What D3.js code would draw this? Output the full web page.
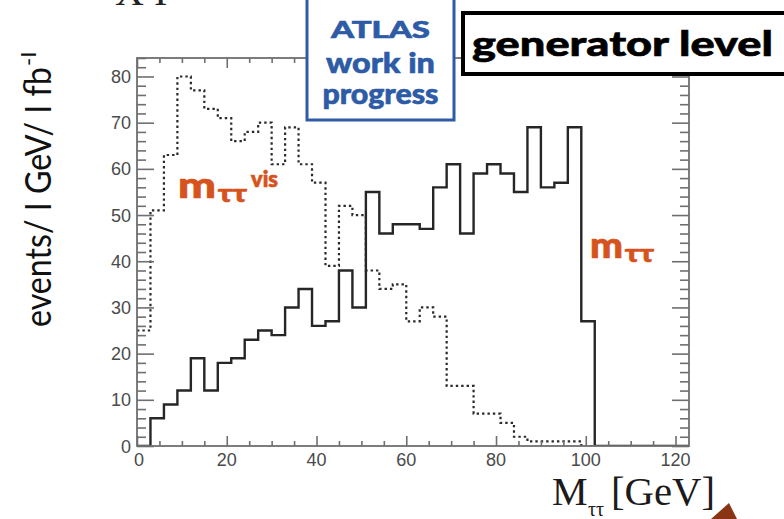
<!DOCTYPE html>
<html>
<head>
<meta charset="utf-8">
<script src="https://cdn.jsdelivr.net/npm/d3@7"></script>
<style>
  html, body { margin: 0; padding: 0; background: #fff; }
  svg { display: block; }
</style>
</head>
<body>
<svg id="chart" width="784" height="519"></svg>
<script>
// Lower bin edges in GeV (3 GeV bins, histogram range 0–123 GeV)
const binLow = [0, 3, 6, 9, 12, 15, 18, 21, 24, 27, 30, 33, 36, 39, 42, 45, 48, 51, 54, 57,
                60, 63, 66, 69, 72, 75, 78, 81, 84, 87, 90, 93, 96, 99, 102, 105, 108, 111, 114, 117, 120];
const binWidth = 3;

// Full di-tau mass, events per bin (solid)
const mTauTau = [0, 6, 9, 12, 19, 12, 18, 19, 23, 25, 24, 30, 34, 26, 27, 38, 30, 55, 46, 48,
                 48, 47, 56, 61, 46, 59, 61, 59, 55, 69, 56, 57, 69, 27, 0, 0, 0, 0, 0, 0, 0];

// Visible di-tau mass, events per bin (dotted)
const mTauTauVis = [25, 51, 63, 80, 77, 73, 71, 66, 68, 70, 61, 69, 61, 57, 39, 52, 50, 38, 34, 35,
                    27, 30, 28, 13, 13, 7, 7, 5, 2, 1, 1, 1, 1, 0, 0, 0, 0, 0, 0, 0, 0];

const xTicksMajor = [0, 20, 40, 60, 80, 100, 120];
const yTicksMajor = [0, 10, 20, 30, 40, 50, 60, 70, 80];

const svg = d3.select("#chart");
const frame = { left: 137, right: 689, top: 58, bottom: 446 };

const x = d3.scaleLinear().domain([0, 123]).range([frame.left, frame.right]);
const y = d3.scaleLinear().domain([0, 84]).range([frame.bottom, frame.top]);

const axisGrey = "#6f6f6f";
const labelGrey = "#4a4a4a";

// clip region for the histograms
svg.append("defs").append("clipPath").attr("id", "plotClip")
  .append("rect")
  .attr("x", frame.left).attr("y", frame.top)
  .attr("width", frame.right - frame.left).attr("height", frame.bottom - frame.top);

// histogram outline as a step line
function stepPoints(values) {
  const pts = binLow.map((lo, i) => [lo, values[i]]);
  pts.push([binLow[binLow.length - 1] + binWidth, values[values.length - 1]]);
  return pts;
}
const stepLine = d3.line()
  .x(d => x(d[0]))
  .y(d => y(d[1]))
  .curve(d3.curveStepAfter);

const plot = svg.append("g").attr("clip-path", "url(#plotClip)");

plot.append("path")
  .attr("d", stepLine(stepPoints(mTauTauVis)))
  .attr("fill", "none")
  .attr("stroke", "#2a2a2a")
  .attr("stroke-width", 2.2)
  .attr("stroke-dasharray", "2.4 3");

plot.append("path")
  .attr("d", stepLine(stepPoints(mTauTau)))
  .attr("fill", "none")
  .attr("stroke", "#262626")
  .attr("stroke-width", 2.4);

// frame
svg.append("rect")
  .attr("x", frame.left).attr("y", frame.top)
  .attr("width", frame.right - frame.left).attr("height", frame.bottom - frame.top)
  .attr("fill", "none").attr("stroke", axisGrey).attr("stroke-width", 1.8);

// x axis ticks (bottom, pointing up) and mirrored on top
const xAxisBottom = d3.axisBottom(x)
  .tickValues(d3.range(0, 121, 5))
  .tickSizeInner(0).tickSizeOuter(0).tickFormat("");
const gxb = svg.append("g").attr("transform", `translate(0,${frame.bottom})`).call(xAxisBottom);
gxb.select(".domain").remove();
gxb.selectAll(".tick line")
  .attr("y2", d => (d % 20 === 0 ? -10 : -5))
  .attr("stroke", axisGrey).attr("stroke-width", 1.6);

const gxt = svg.append("g").attr("transform", `translate(0,${frame.top})`).call(xAxisBottom);
gxt.select(".domain").remove();
gxt.selectAll(".tick line")
  .attr("y2", d => (d % 20 === 0 ? 10 : 5))
  .attr("stroke", axisGrey).attr("stroke-width", 1.6);

// x tick labels
svg.append("g").selectAll("text").data(xTicksMajor).join("text")
  .attr("x", d => x(d) + (d === 0 ? 2 : 0))
  .attr("y", frame.bottom + 20)
  .attr("text-anchor", "middle")
  .attr("font-family", "Liberation Sans, Arial, sans-serif")
  .attr("font-size", 18)
  .attr("fill", labelGrey)
  .text(d => d);

// y axis ticks (left, pointing right) and mirrored on right
const yAxis = d3.axisLeft(y)
  .tickValues(d3.range(0, 85, 2))
  .tickSizeInner(0).tickSizeOuter(0).tickFormat("");
const gyl = svg.append("g").attr("transform", `translate(${frame.left},0)`).call(yAxis);
gyl.select(".domain").remove();
gyl.selectAll(".tick line")
  .attr("x2", d => (d % 10 === 0 ? 17 : 9))
  .attr("stroke", axisGrey).attr("stroke-width", 1.6);

const gyr = svg.append("g").attr("transform", `translate(${frame.right},0)`).call(yAxis);
gyr.select(".domain").remove();
gyr.selectAll(".tick line")
  .attr("x2", d => (d % 10 === 0 ? -17 : -9))
  .attr("stroke", axisGrey).attr("stroke-width", 1.6);

// y tick labels
svg.append("g").selectAll("text").data(yTicksMajor).join("text")
  .attr("x", frame.left - 6)
  .attr("y", d => y(d) + 6.5)
  .attr("text-anchor", "end")
  .attr("font-family", "Liberation Sans, Arial, sans-serif")
  .attr("font-size", 18)
  .attr("fill", labelGrey)
  .text(d => d);

// y axis title
const yTitle = svg.append("g").attr("transform", "translate(51,327) rotate(-90)");
yTitle.append("text")
  .attr("x", 0).attr("y", 0)
  .attr("font-family", "Lato, 'Open Sans', sans-serif")
  .attr("font-size", 37)
  .attr("fill", "#111")
  .attr("textLength", 260).attr("lengthAdjust", "spacingAndGlyphs")
  .text("events/ I GeV/ I fb");
yTitle.append("text")
  .attr("x", 261).attr("y", -15)
  .attr("font-family", "Lato, 'Open Sans', sans-serif")
  .attr("font-size", 22)
  .attr("fill", "#111")
  .text("-I");

// partially visible heading above the plot
svg.append("text")
  .attr("x", 115).attr("y", 5)
  .attr("font-family", "Liberation Serif, 'Times New Roman', serif")
  .attr("font-size", 40)
  .attr("fill", "#222")
  .text("X I");

// ATLAS box
svg.append("rect")
  .attr("x", 307).attr("y", -6).attr("width", 147).attr("height", 126)
  .attr("fill", "#fff").attr("stroke", "#2e5ba6").attr("stroke-width", 3);
const atlasLines = [
  { t: "ATLAS", yb: 38, fs: 23, w: 99 },
  { t: "work in", yb: 73, fs: 28, w: 109 },
  { t: "progress", yb: 104, fs: 28, w: 116 }
];
svg.append("g").selectAll("text").data(atlasLines).join("text")
  .attr("x", 380.5).attr("y", d => d.yb)
  .attr("text-anchor", "middle")
  .attr("font-family", "Lato, 'Open Sans', sans-serif")
  .attr("font-weight", 900)
  .attr("font-size", d => d.fs)
  .attr("fill", "#2e5ba6")
  .attr("stroke", "#2e5ba6").attr("stroke-width", 0.6)
  .attr("textLength", d => d.w).attr("lengthAdjust", "spacingAndGlyphs")
  .text(d => d.t);

// generator level box
svg.append("rect")
  .attr("x", 463).attr("y", 13).attr("width", 330).attr("height", 61)
  .attr("fill", "#fff").attr("stroke", "#000").attr("stroke-width", 4);
svg.append("text")
  .attr("x", 472).attr("y", 56)
  .attr("font-family", "Lato, 'Open Sans', sans-serif")
  .attr("font-weight", 900)
  .attr("font-size", 34)
  .attr("fill", "#000")
  .attr("stroke", "#000").attr("stroke-width", 0.6)
  .attr("textLength", 301).attr("lengthAdjust", "spacingAndGlyphs")
  .text("generator level");

// curve labels
const orange = "#d6531d";
function massLabel(x0, yb, mW, withVis) {
  const g = svg.append("g").attr("fill", orange)
    .attr("stroke", orange).attr("stroke-width", 0.7)
    .attr("font-family", "Lato, 'Open Sans', sans-serif").attr("font-weight", 900);
  g.append("text").attr("x", x0).attr("y", yb).attr("font-size", 36)
    .attr("textLength", mW).attr("lengthAdjust", "spacingAndGlyphs").text("m");
  g.append("text").attr("x", x0 + mW + 2).attr("y", yb + 4).attr("font-size", 24)
    .attr("textLength", 29).attr("lengthAdjust", "spacingAndGlyphs").text("ττ");
  if (withVis) {
    g.append("text").attr("x", x0 + mW + 35).attr("y", yb - 11).attr("font-size", 22)
      .attr("textLength", 27).attr("lengthAdjust", "spacingAndGlyphs").text("vis");
  }
}
massLabel(178, 198, 38, true);
massLabel(590, 258, 33, false);

// x axis title
const xTitle = svg.append("g")
  .attr("font-family", "Liberation Serif, 'Times New Roman', serif")
  .attr("fill", "#1c1a1a");
xTitle.append("text").attr("x", 552).attr("y", 505).attr("font-size", 40).text("M");
xTitle.append("text").attr("x", 588).attr("y", 516).attr("font-size", 20).text("ττ");
xTitle.append("text").attr("x", 611).attr("y", 505).attr("font-size", 40)
  .attr("textLength", 104).attr("lengthAdjust", "spacingAndGlyphs").text("[GeV]");

// arrow tip at the lower right
svg.append("path")
  .attr("d", "M711,519 L729,503 L737,519 Z")
  .attr("fill", "#8a3416");
</script>
</body>
</html>
